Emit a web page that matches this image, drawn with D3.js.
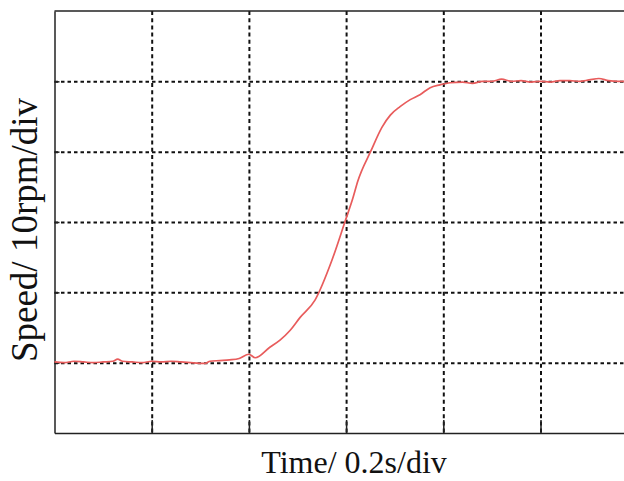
<!DOCTYPE html>
<html>
<head>
<meta charset="utf-8">
<script src="https://cdn.jsdelivr.net/npm/d3@7"></script>
<style>
  body { margin: 0; background: #fff; }
  svg { display: block; }
  .label { font-family: "Liberation Serif", "Times New Roman", serif; fill: #111; }
</style>
</head>
<body>
<svg id="chart"></svg>
<script>
// time in seconds (0.2 s per division), speed in rpm (10 rpm per division)
const time = [
  0.00, 0.02, 0.04, 0.06, 0.08, 0.10, 0.12, 0.13, 0.14, 0.16,
  0.18, 0.20, 0.22, 0.24, 0.26, 0.28, 0.31, 0.32, 0.34, 0.36,
  0.38, 0.40, 0.413, 0.443, 0.464, 0.485, 0.505, 0.536, 0.571, 0.598,
  0.614, 0.624, 0.651, 0.674, 0.691, 0.711, 0.732, 0.752, 0.773, 0.793,
  0.814, 0.84, 0.86, 0.88, 0.90, 0.92, 0.94, 0.96, 0.98, 1.00,
  1.02, 1.04, 1.06, 1.08, 1.10, 1.12, 1.14, 1.16, 1.18, 1.20
];
const speed = [
  10.1, 10.0, 10.2, 10.1, 10.0, 10.1, 10.2, 10.5, 10.2, 10.1,
  10.0, 10.2, 10.1, 10.2, 10.1, 10.0, 9.9, 10.2, 10.3, 10.4,
  10.6, 11.2, 10.7, 12.2, 13.2, 14.6, 16.4, 18.9, 24.6, 30.1,
  33.4, 35.8, 40.1, 43.5, 45.2, 46.4, 47.4, 48.1, 49.1, 49.5,
  49.8, 49.9, 49.7, 50.0, 50.0, 50.3, 50.0, 50.1, 49.9, 50.0,
  49.9, 50.1, 50.1, 50.0, 50.2, 50.4, 50.1, 50.0, 50.0, 50.0
];
const xTicks = [0, 0.2, 0.4, 0.6, 0.8, 1.0, 1.2];
const yTicks = [0, 10, 20, 30, 40, 50, 60];

const data = time.map((t, i) => ({ t: t, v: speed[i] }));

const W = 624, H = 481;
const margin = { top: 11, left: 54.5 };
const width = 583.2, height = 422;

const svg = d3.select('#chart').attr('width', W).attr('height', H);
const g = svg.append('g').attr('transform', `translate(${margin.left},${margin.top})`);

const x = d3.scaleLinear().domain([0, 1.2]).range([0, width]);
const y = d3.scaleLinear().domain([0, 60]).range([height, 0]);

// dashed grid
g.append('g')
  .attr('class', 'grid-x')
  .call(d3.axisBottom(x).tickValues(xTicks.slice(1, -1)).tickSize(height).tickFormat(''))
  .call(s => s.select('.domain').remove())
  .selectAll('line')
  .attr('stroke', '#111').attr('stroke-width', 2).attr('stroke-dasharray', '4,3.2');

g.append('g')
  .attr('class', 'grid-y')
  .call(d3.axisLeft(y).tickValues(yTicks.slice(1, -1)).tickSize(-width).tickFormat(''))
  .call(s => s.select('.domain').remove())
  .selectAll('line')
  .attr('stroke', '#111').attr('stroke-width', 2).attr('stroke-dasharray', '3.5,3');

// frame with inner ticks
g.append('g')
  .attr('transform', `translate(0,${height})`)
  .call(d3.axisBottom(x).tickValues(xTicks.slice(1, -1)).tickSizeInner(-13).tickSizeOuter(0).tickFormat(''))
  .call(s => s.selectAll('path, line').attr('stroke', '#222').attr('stroke-width', 1.5));

g.append('g')
  .call(d3.axisLeft(y).tickValues(yTicks.slice(1, -1)).tickSizeInner(-5).tickSizeOuter(0).tickFormat(''))
  .call(s => s.selectAll('path, line').attr('stroke', '#222').attr('stroke-width', 1.5));

g.append('line')
  .attr('x1', 0).attr('x2', width).attr('y1', 0).attr('y2', 0)
  .attr('stroke', '#222').attr('stroke-width', 1.5);

// speed curve
const line = d3.line().x(d => x(d.t)).y(d => y(d.v)).curve(d3.curveMonotoneX);
g.append('path')
  .datum(data)
  .attr('fill', 'none')
  .attr('stroke', '#e85c5c')
  .attr('stroke-width', 1.7)
  .attr('stroke-linejoin', 'round')
  .attr('d', line);

// axis titles
svg.append('text')
  .attr('class', 'label')
  .attr('x', 354).attr('y', 473)
  .attr('text-anchor', 'middle')
  .style('font-size', '32px')
  .text('Time/ 0.2s/div');

svg.append('text')
  .attr('class', 'label')
  .attr('transform', 'translate(37,230) rotate(-90)')
  .attr('text-anchor', 'middle')
  .style('font-size', '37px')
  .text('Speed/ 10rpm/div');
</script>
</body>
</html>
